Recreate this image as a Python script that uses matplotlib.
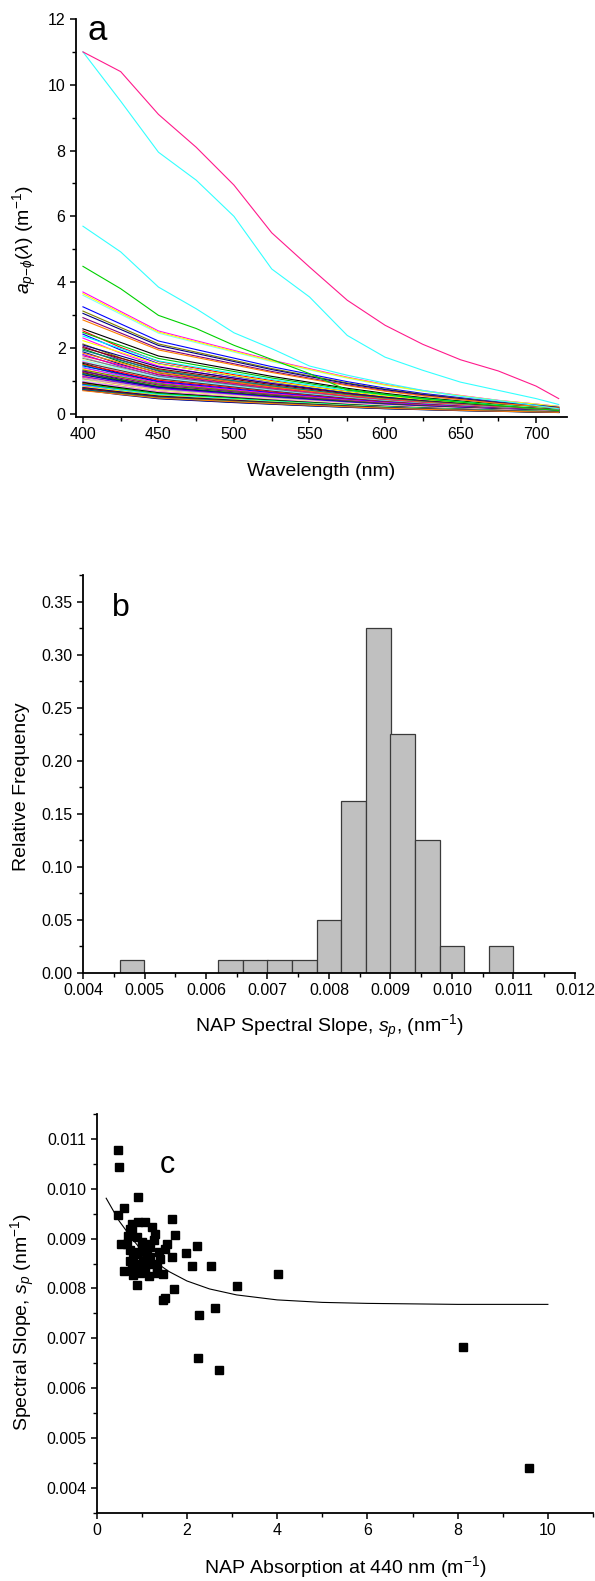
import numpy as np
import matplotlib
matplotlib.use("Agg")
import matplotlib.pyplot as plt
from matplotlib.ticker import MultipleLocator, FormatStrFormatter

plt.rcParams["font.family"] = ["Liberation Sans", "DejaVu Sans"]
plt.rcParams["mathtext.fontset"] = "custom"
plt.rcParams["mathtext.rm"] = "Liberation Sans"
plt.rcParams["mathtext.it"] = "Liberation Sans:italic"
plt.rcParams["mathtext.bf"] = "Liberation Sans:bold"

# ---- panel a: a_p-phi spectra ----
wl = [400, 425, 450, 475, 500, 525, 550, 575, 600, 625, 650, 675, 700, 715]

a_pink = [11.0, 10.4, 9.1, 8.1, 6.95, 5.5, 4.46, 3.45, 2.69, 2.11, 1.64, 1.30, 0.84, 0.46]
a_cyan1 = [11.0, 9.5, 7.95, 7.1, 6.0, 4.4, 3.55, 2.38, 1.72, 1.32, 0.96, 0.71, 0.46, 0.28]
a_cyan2 = [5.7, 4.92, 3.85, 3.19, 2.46, 1.98, 1.45, 1.17, 0.93, 0.71, 0.53, 0.40, 0.25, 0.15]
a_green = [4.48, 3.8, 2.99, 2.59, 2.08, 1.65, 1.22, 0.72, 0.58, 0.45, 0.35, 0.25, 0.15, 0.10]

# a(400) of the remaining spectra, and their relative shapes a(wl)/a(400)
a400_mid = [3.7, 3.6, 3.65, 3.25, 3.12, 3.05, 2.92, 2.85]
col_mid = ["#FF00FF", "#80FFFF", "#FFFF00", "#0000FF", "#808000", "#000080", "#800080", "#FF8000"]
a400_low = [2.58, 2.52, 2.47, 2.42, 2.36, 2.3, 2.22, 2.12, 2.09, 2.05, 2.01, 1.97, 1.93,
            1.88, 1.84, 1.8, 1.76, 1.72, 1.68, 1.65, 1.62, 1.59, 1.56, 1.53, 1.5, 1.48,
            1.45, 1.42, 1.39, 1.36, 1.33, 1.3, 1.28, 1.25, 1.22, 1.2, 1.18, 1.15, 1.13,
            1.1, 1.08, 1.05, 1.03, 1.0, 0.98, 0.96, 0.94, 0.92, 0.9, 0.88, 0.86, 0.84,
            0.82, 0.8, 0.79, 0.77, 0.76, 0.74, 0.73, 0.72, 0.7]
shape_mid = [1, 0.84, 0.68, 0.60, 0.52, 0.44, 0.37, 0.30, 0.24, 0.19, 0.15, 0.11, 0.08, 0.06]
shape_low = [1, 0.80, 0.63, 0.55, 0.47, 0.40, 0.33, 0.27, 0.21, 0.17, 0.13, 0.10, 0.07, 0.05]
origin_cols = ["#000000", "#FF0000", "#00C000", "#0000FF", "#00FFFF", "#FF00FF", "#FFFF00",
               "#808000", "#000080", "#800080", "#800000", "#008000", "#008080", "#0000A0",
               "#FF8000", "#8000FF", "#FF0080", "#C0C0C0", "#808080", "#FFFF80", "#80FFFF",
               "#FF80FF", "#404040"]

# ---- panel b: histogram of NAP slopes ----
bin_left = [0.0046, 0.0062, 0.0066, 0.0070, 0.0074, 0.0078, 0.0082, 0.0086, 0.0090,
            0.0094, 0.0098, 0.0106]
rel_freq = [0.0125, 0.0125, 0.0125, 0.0125, 0.0125, 0.05, 0.1625, 0.325, 0.225,
            0.125, 0.025, 0.025]
bin_w = 0.0004

# ---- panel c: slope vs a_NAP(440) ----
a440 = [0.47, 0.49, 0.92, 0.61, 0.48, 1.66, 1.74, 0.54, 2.22, 1.98, 1.55, 1.52, 1.66,
        2.11, 2.53, 3.10, 0.61, 0.89, 1.48, 1.17, 1.71, 1.48, 1.51, 2.27, 2.62, 2.25,
        2.71, 4.01, 8.11, 9.58,
        0.78, 0.92, 1.07, 1.22, 1.29, 1.26, 1.14, 1.00, 0.89, 0.78, 0.74,
        0.67, 0.74, 0.81, 0.89, 0.96, 1.03, 1.11, 1.18, 1.26, 1.33, 0.85, 0.74, 0.78,
        0.96, 1.07, 1.00, 0.92, 1.18, 1.37, 1.40, 1.33, 0.81, 0.70, 1.10]
slope = [0.01077, 0.01043, 0.00983, 0.00961, 0.00947, 0.00939, 0.00907, 0.0089, 0.00885,
         0.00872, 0.0089, 0.00879, 0.00863, 0.00845, 0.00845, 0.00805, 0.00835, 0.00807,
         0.00828, 0.00825, 0.00798, 0.00777, 0.00781, 0.00746, 0.00761, 0.0066, 0.00636,
         0.00829, 0.00682, 0.00439,
         0.0093, 0.00934, 0.00934, 0.00924, 0.0091, 0.00897, 0.0089, 0.00893, 0.00903,
         0.00914, 0.0092,
         0.0089, 0.00877, 0.00863, 0.0085, 0.00843, 0.00856, 0.0087, 0.00863, 0.0085,
         0.00843, 0.0087, 0.00856, 0.00843, 0.0083, 0.00836, 0.00883, 0.00873, 0.00883,
         0.00873, 0.0086, 0.0083, 0.00826, 0.00905, 0.0085]
fit_x = [0.21, 0.5, 0.8, 1.0, 1.3, 1.6, 2.0, 2.5, 3.1, 4.0, 5.0, 6.0, 7.0, 8.0, 10.0]
fit_y = [0.00981, 0.00935, 0.00898, 0.00876, 0.00853, 0.00834, 0.00815, 0.00799, 0.00787,
         0.00777, 0.00772, 0.0077, 0.00769, 0.00768, 0.00768]

W, H = 595, 1581
fig = plt.figure(figsize=(W / 100, H / 100), dpi=100)


def px_axes(left, top, right, bottom):
    return fig.add_axes([left / W, 1 - bottom / H, (right - left) / W, (bottom - top) / H])


def style(ax):
    for s in ["top", "right"]:
        ax.spines[s].set_visible(False)
    for s in ["left", "bottom"]:
        ax.spines[s].set_linewidth(1.3)
    ax.tick_params(which="major", direction="out", length=4.5, width=1.1, labelsize=11.5, pad=3)
    ax.tick_params(which="minor", direction="out", length=2.8, width=1.0)


def labels(ax, xlab, ylab, yx, yy):
    ax.set_xlabel(xlab, fontsize=14)
    ax.xaxis.set_label_coords(0.5, -0.136)
    ax.xaxis.label.set_va("center")
    ax.set_ylabel(ylab, fontsize=14)
    ax.yaxis.set_label_coords(yx, yy)
    ax.yaxis.label.set_va("center")
    ax.yaxis.label.set_ha("center")


# panel a
ax1 = px_axes(76, 19, 567, 417)
wl_arr = np.array(wl)
for i, a0 in enumerate(a400_low):
    shp = shape_mid if i % 2 == 0 else shape_low
    ax1.plot(wl_arr, a0 * np.array(shp), color=origin_cols[i % len(origin_cols)], lw=0.8)
for a0, c in zip(a400_mid, col_mid):
    ax1.plot(wl_arr, a0 * np.array(shape_mid), color=c, lw=0.8)
ax1.plot(wl, a_green, color="#00D000", lw=0.8)
ax1.plot(wl, a_cyan2, color="#33FFFF", lw=0.8)
ax1.plot(wl, a_cyan1, color="#33FFFF", lw=0.8)
ax1.plot(wl, a_pink, color="#FF1A8C", lw=0.8)
ax1.set_xlim(395.4, 720.5)
ax1.set_ylim(-0.1, 12)
ax1.xaxis.set_major_locator(MultipleLocator(50))
ax1.xaxis.set_minor_locator(MultipleLocator(25))
ax1.yaxis.set_major_locator(MultipleLocator(2))
ax1.yaxis.set_minor_locator(MultipleLocator(1))
style(ax1)
labels(ax1, "Wavelength (nm)", r"$a_{p\mathrm{-}\phi}(\lambda)$ (m$^{-1}$)", -0.104, 0.445)
ax1.text(0.024, 0.972, "a", transform=ax1.transAxes, fontsize=25, ha="left", va="center")

# panel b
ax2 = px_axes(83, 575, 575, 973)
ax2.bar(bin_left, rel_freq, width=bin_w, align="edge", color="#C0C0C0",
        edgecolor="#3a3a3a", linewidth=0.9, zorder=2)
ax2.set_xlim(0.004, 0.012)
ax2.set_ylim(0, 0.375)
ax2.xaxis.set_major_locator(MultipleLocator(0.001))
ax2.xaxis.set_minor_locator(MultipleLocator(0.0005))
ax2.xaxis.set_major_formatter(FormatStrFormatter("%.3f"))
ax2.yaxis.set_major_locator(MultipleLocator(0.05))
ax2.yaxis.set_minor_locator(MultipleLocator(0.025))
ax2.yaxis.set_major_formatter(FormatStrFormatter("%.2f"))
style(ax2)
labels(ax2, r"NAP Spectral Slope, $s_p$, (nm$^{-1}$)", "Relative Frequency", -0.126, 0.467)
ax2.text(0.059, 0.917, "b", transform=ax2.transAxes, fontsize=23, ha="left", va="center")

# panel c
ax3 = px_axes(96.7, 1114, 593, 1512.7)
ax3.plot(fit_x, fit_y, color="black", lw=0.8, zorder=2)
ax3.plot(a440, slope, ls="none", marker="s", ms=5.8, color="black", zorder=3)
ax3.set_xlim(0, 11)
ax3.set_ylim(0.0035, 0.0115)
ax3.xaxis.set_major_locator(MultipleLocator(2))
ax3.xaxis.set_minor_locator(MultipleLocator(1))
ax3.yaxis.set_major_locator(MultipleLocator(0.001))
ax3.yaxis.set_minor_locator(MultipleLocator(0.0005))
ax3.yaxis.set_major_formatter(FormatStrFormatter("%.3f"))
style(ax3)
labels(ax3, r"NAP Absorption at 440 nm (m$^{-1}$)", r"Spectral Slope, $s_p$ (nm$^{-1}$)",
       -0.149, 0.478)
ax3.text(0.142, 0.872, "c", transform=ax3.transAxes, fontsize=22, ha="center", va="center")

fig.savefig("out.png", dpi=100)
